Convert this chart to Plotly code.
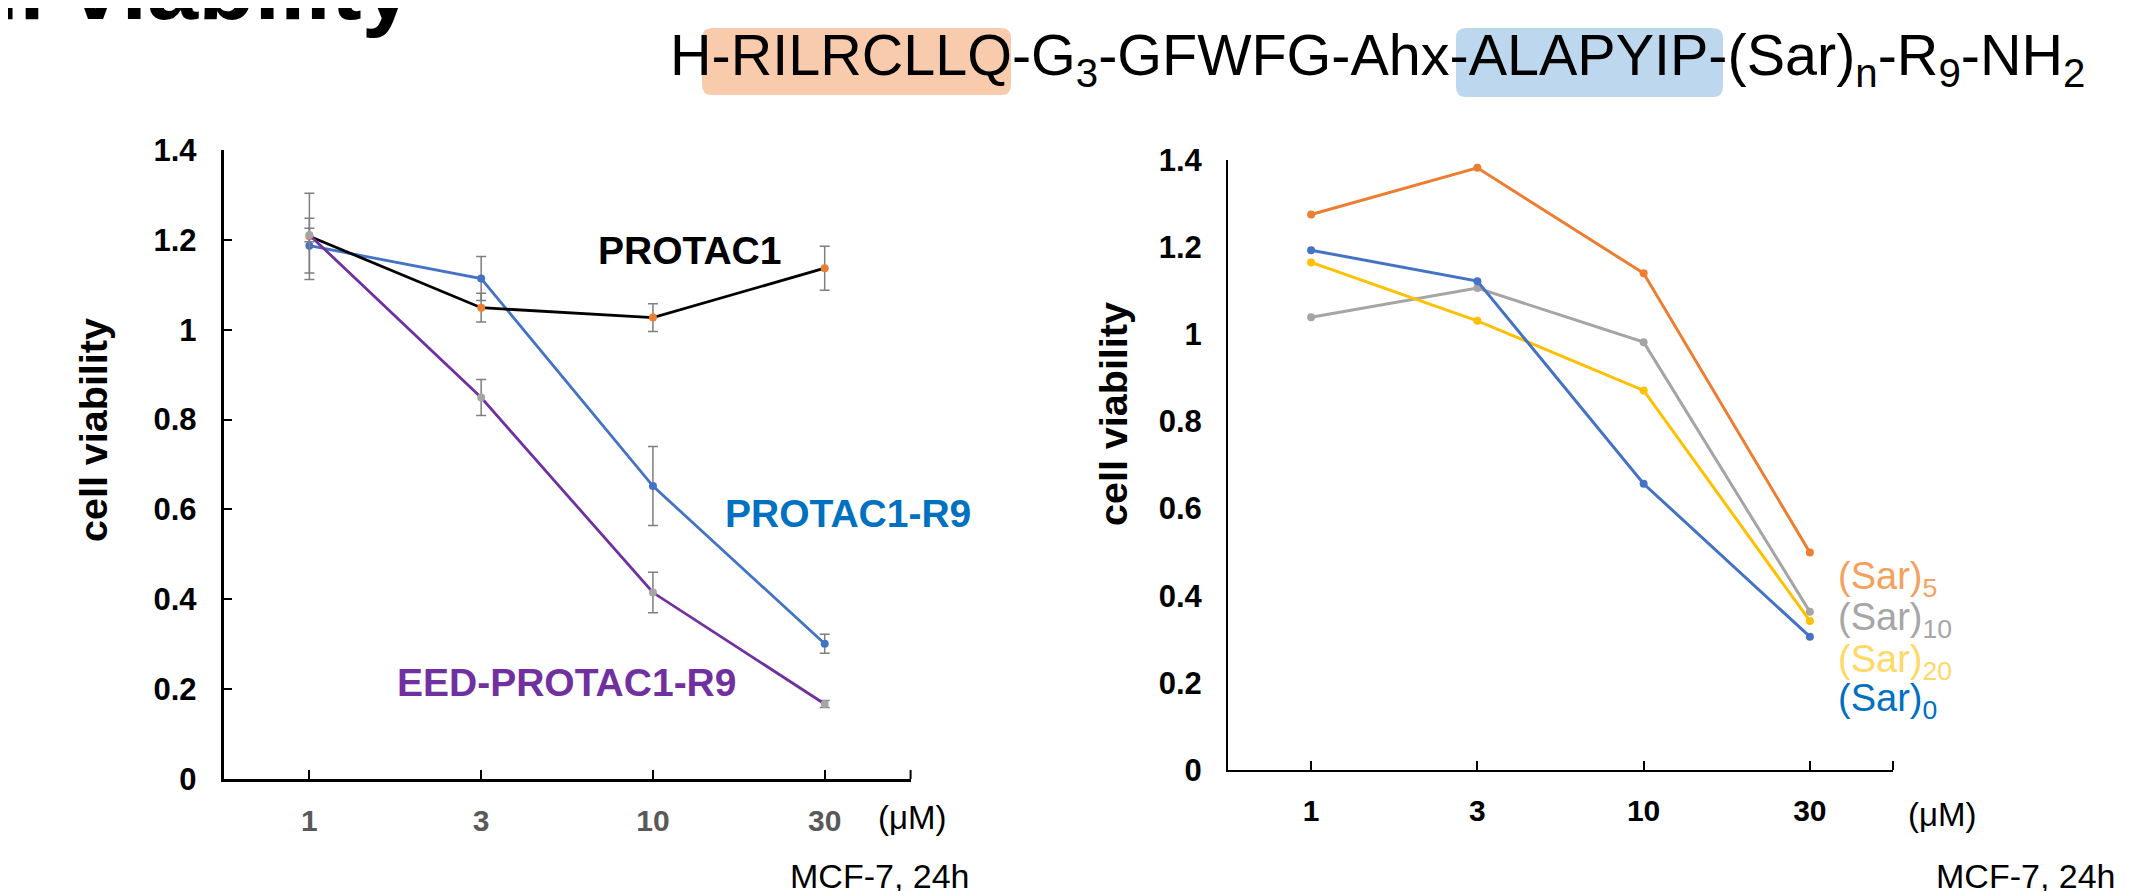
import plotly.graph_objects as go

W, H = 2130, 891
OFF = 8  # page body margin of the rendered html

# ---------------- data ----------------
conc = ["1", "3", "10", "30"]

protac1 = [1.208, 1.049, 1.027, 1.137]
protac1_err = [0.096, 0.032, 0.031, 0.049]
protac1_r9 = [1.187, 1.114, 0.652, 0.301]
protac1_r9_err = [0.061, 0.049, 0.088, 0.021]
eed_protac1_r9 = [1.211, 0.849, 0.415, 0.167]
eed_protac1_r9_err = [0.015, 0.040, 0.045, 0.008]

sar5 = [1.275, 1.382, 1.140, 0.499]
sar10 = [1.039, 1.106, 0.982, 0.363]
sar20 = [1.165, 1.031, 0.871, 0.342]
sar0 = [1.193, 1.122, 0.657, 0.306]

y_ticks = [0, 0.2, 0.4, 0.6, 0.8, 1.0, 1.2, 1.4]
y_ticktext = ["0", "0.2", "0.4", "0.6", "0.8", "1", "1.2", "1.4"]

FONT = "Arial, Liberation Sans, sans-serif"


def px(x):
    return (x - OFF) / W


def py(y):
    return 1 - (y - OFF) / H


fig = go.Figure()

err_style = dict(type="data", color="#7F7F7F", thickness=1.5, width=5, visible=True)

fig.add_trace(go.Scatter(x=conc, y=protac1_r9, mode="lines+markers", xaxis="x", yaxis="y",
                         line=dict(color="#4472C4", width=2.8),
                         marker=dict(color="#4472C4", size=8),
                         error_y=dict(array=protac1_r9_err, **err_style), name="PROTAC1-R9"))
fig.add_trace(go.Scatter(x=conc, y=protac1, mode="lines+markers", xaxis="x", yaxis="y",
                         line=dict(color="#000000", width=2.8),
                         marker=dict(color="#ED7D31", size=8),
                         error_y=dict(array=protac1_err, **err_style), name="PROTAC1"))
fig.add_trace(go.Scatter(x=conc, y=eed_protac1_r9, mode="lines+markers", xaxis="x", yaxis="y",
                         line=dict(color="#7030A0", width=2.8),
                         marker=dict(color="#A5A5A5", size=8),
                         error_y=dict(array=eed_protac1_r9_err, **err_style), name="EED-PROTAC1-R9"))

for vals, col, nm in [(sar10, "#A5A5A5", "(Sar)10"), (sar20, "#FFC000", "(Sar)20"),
                      (sar5, "#ED7D31", "(Sar)5"), (sar0, "#4472C4", "(Sar)0")]:
    fig.add_trace(go.Scatter(x=conc, y=vals, mode="lines+markers", xaxis="x2", yaxis="y2",
                             line=dict(color=col, width=3), marker=dict(color=col, size=8), name=nm))

common_x = dict(type="category", range=[-0.5, 3.5], showline=True, linecolor="#000000",
                ticks="inside", ticklen=9, tickwidth=2, tickcolor="#000000", automargin=False,
                showgrid=False, zeroline=False, ticklabelstandoff=13)
common_y = dict(range=[0, 1.4], tickvals=y_ticks, ticktext=y_ticktext, showline=True,
                linecolor="#000000", showgrid=False, zeroline=False, ticklabelstandoff=18,
                automargin=False,
                tickfont=dict(family=FONT, size=31, color="#000000", weight="bold"))

fig.update_layout(
    width=W, height=H, margin=dict(l=0, r=0, t=0, b=0, autoexpand=False),
    paper_bgcolor="white", plot_bgcolor="white", showlegend=False,
    xaxis=dict(domain=[px(223.5), px(910.6)], anchor="y", linewidth=2.5,
               tickfont=dict(family=FONT, size=30, color="#595959", weight="bold"), **common_x),
    yaxis=dict(domain=[py(779), py(150)], anchor="x", linewidth=2.5,
               ticks="inside", ticklen=9, tickwidth=2, tickcolor="#000000", **common_y),
    xaxis2=dict(domain=[px(1228), px(1893)], anchor="y2", linewidth=2,
                tickfont=dict(family=FONT, size=30, color="#000000", weight="bold"), **common_x),
    yaxis2=dict(domain=[py(770), py(160)], anchor="x2", linewidth=2, ticks="", **common_y),
)

ann = []


def add_text(x, y, text, size, color="#000000", bold=False, xanchor="center", yanchor="middle",
             angle=0):
    ann.append(dict(x=px(x), y=py(y), xref="paper", yref="paper", text=text, showarrow=False,
                    xanchor=xanchor, yanchor=yanchor, textangle=angle,
                    font=dict(family=FONT, size=size, color=color, weight="bold" if bold else "normal")))


# title (cut off at top-left)
add_text(415, -66, "Cell viability", 92, bold=True, xanchor="right", yanchor="top")

# peptide sequence
add_text(668, 60, "H-RILRCLLQ-G<sub>3</sub>-GFWFG-Ahx-ALAPYIP-(Sar)<sub>n</sub>-R<sub>9</sub>-NH<sub>2</sub>",
         57.5, xanchor="left")

# axis titles
add_text(93, 430, "cell viability", 39.5, bold=True, angle=-90)
add_text(1113, 414, "cell viability", 39.5, bold=True, angle=-90)

# series labels (left)
add_text(689, 251, "PROTAC1", 39, bold=True)
add_text(848, 513, "PROTAC1-R9", 39, color="#0070C0", bold=True)
add_text(566, 682, "EED-PROTAC1-R9", 39, color="#7030A0", bold=True)

# series labels (right)
add_text(1836, 579, "(Sar)<sub>5</sub>", 38, color="#F4A15D", xanchor="left")
add_text(1836, 620, "(Sar)<sub>10</sub>", 38, color="#A6A6A6", xanchor="left")
add_text(1836, 662, "(Sar)<sub>20</sub>", 38, color="#FFD966", xanchor="left")
add_text(1836, 701, "(Sar)<sub>0</sub>", 38, color="#0070C0", xanchor="left")

# units & cell line
add_text(912, 817, "(μM)", 33)
add_text(1942, 814, "(μM)", 33)
add_text(788, 876, "MCF-7, 24h", 34, xanchor="left")
add_text(1934, 876, "MCF-7, 24h", 34, xanchor="left")

fig.update_layout(annotations=ann)


def rounded_box(x0, y0, x1, y1, r, color):
    X0, X1 = px(x0), px(x1)
    Y0, Y1 = py(y0), py(y1)  # Y0 top, Y1 bottom
    rx, ry = r / W, r / H
    path = (f"M {X0+rx},{Y0} L {X1-rx},{Y0} Q {X1},{Y0} {X1},{Y0-ry} "
            f"L {X1},{Y1+ry} Q {X1},{Y1} {X1-rx},{Y1} L {X0+rx},{Y1} "
            f"Q {X0},{Y1} {X0},{Y1+ry} L {X0},{Y0-ry} Q {X0},{Y0} {X0+rx},{Y0} Z")
    return dict(type="path", path=path, xref="paper", yref="paper", fillcolor=color,
                line=dict(width=0), layer="below")


shapes = [
    rounded_box(702, 28, 1011, 95, 10, "#F8CBAD"),
    rounded_box(1456, 28, 1723, 97, 10, "#BDD7EE"),
    # end tick marks at right end of the x axes
    dict(type="line", xref="x domain", yref="y domain", x0=1, x1=1, y0=0, y1=9 / 629,
         line=dict(color="#000000", width=2)),
    dict(type="line", xref="x2 domain", yref="y2 domain", x0=1, x1=1, y0=0, y1=9 / 610,
         line=dict(color="#000000", width=2)),
]
fig.update_layout(shapes=shapes)

fig.write_html("out.html")
